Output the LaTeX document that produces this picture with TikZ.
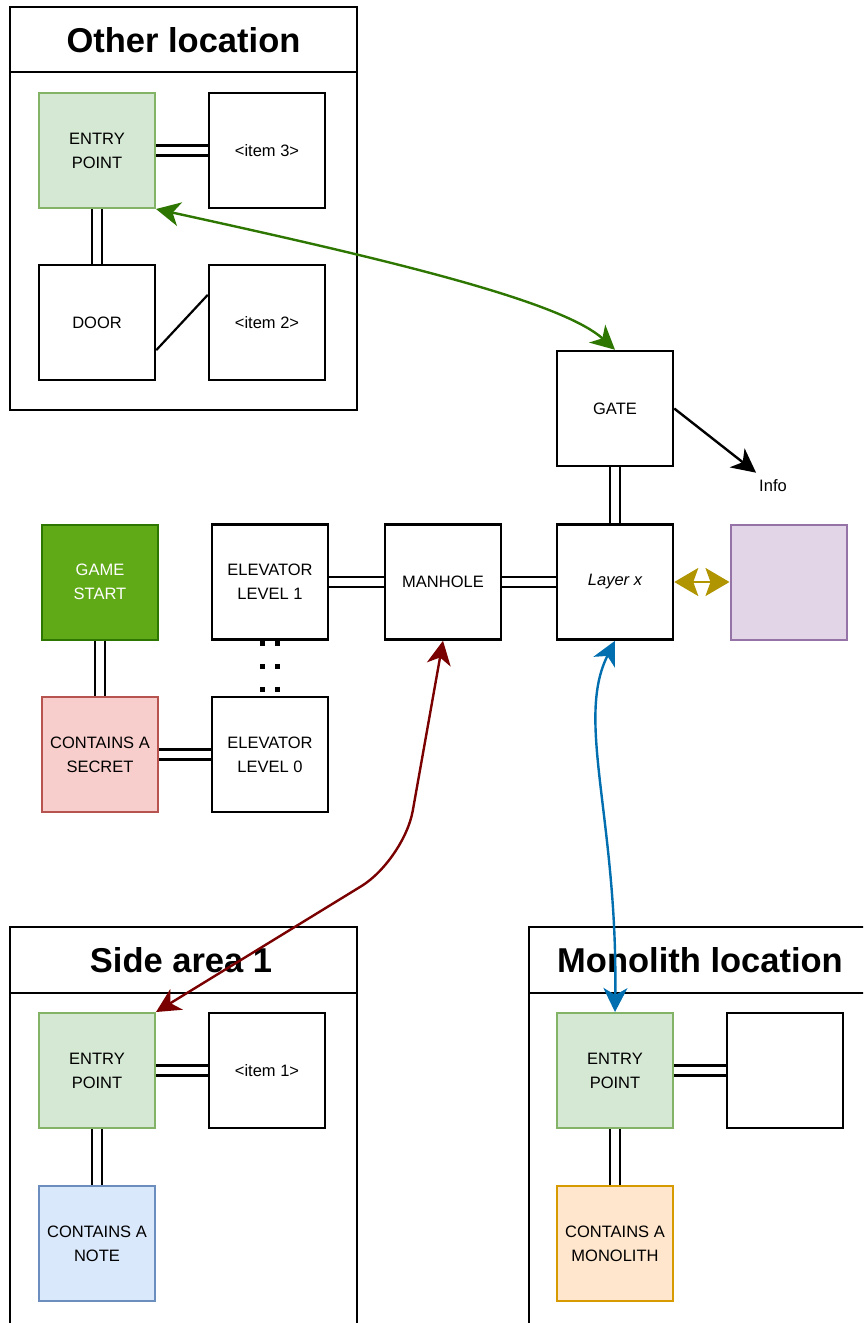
\documentclass[tikz,border=0pt]{standalone}
\usepackage{fontspec}
\setmainfont{Liberation Sans}
\usetikzlibrary{arrows.meta}
\definecolor{epfill}{HTML}{D5E8D4}\definecolor{epline}{HTML}{82B366}
\definecolor{gsfill}{HTML}{60A917}\definecolor{gsline}{HTML}{2D7600}
\definecolor{scfill}{HTML}{F8CECC}\definecolor{scline}{HTML}{B85450}
\definecolor{ntfill}{HTML}{DAE8FC}\definecolor{ntline}{HTML}{6C8EBF}
\definecolor{mnfill}{HTML}{FFE6CC}\definecolor{mnline}{HTML}{D79B00}
\definecolor{pufill}{HTML}{E1D5E7}\definecolor{puline}{HTML}{9673A6}
\definecolor{arrgreen}{HTML}{2D7600}\definecolor{arrred}{HTML}{7A0000}
\definecolor{arrblue}{HTML}{006EAF}\definecolor{arrgold}{HTML}{B09500}
\newcommand\lbl{\fontsize{16.5}{24}\selectfont}
\newcommand\ttl{\fontsize{34.5}{40}\selectfont\bfseries}
\tikzset{
  box/.style={draw,line width=2.5pt,minimum width=116pt,minimum height=115pt,inner sep=0pt,align=center,font=\lbl},
  cbox/.style={box,line width=2pt,draw=#1line,fill=#1fill},
  link/.style={line width=2.2pt,double,double distance=7.8pt},
  dotlink/.style={line width=5pt,double,double distance=10pt,dash pattern=on 5pt off 18pt},
  area/.style={draw,line width=2.5pt},
  conn/.style={<->,line width=2.4pt}
}
\begin{document}
\begin{tikzpicture}[x=1pt,y=-1pt,>={Stealth[length=24pt,width=24pt,inset=7pt]}]
  \clip (0,0) rectangle (863,1323);
  \draw[area] (10,7) rectangle (357,410) (10,72) -- (357,72);
  \draw[area] (10,927) rectangle (357,1340) (10,993) -- (357,993);
  \draw[area] (529,927) rectangle (880,1340) (529,993) -- (880,993);
  \node[font=\ttl](t1)at(183.5,40){Other location};
  \node[font=\ttl](t2)at(181,960){Side area 1};
  \node[font=\ttl](t3)at(700,960){Monolith location};
  \node[cbox=ep](ep1)at(97,150.5){ENTRY\\POINT};
  \node[box](it3)at(267,150.5){<item 3>};
  \node[box](door)at(97,322.5){DOOR};
  \node[box](it2)at(267,322.5){<item 2>};
  \node[box](gate)at(615,408.5){GATE};
  \node[font=\lbl](info)at(773,486){Info};
  \node[cbox=gs,text=white](start)at(100,582){GAME\\START};
  \node[cbox=sc](secret)at(100,754.5){CONTAINS A\\SECRET};
  \node[box](elev1)at(270,582){ELEVATOR\\LEVEL 1};
  \node[box](elev0)at(270,754.5){ELEVATOR\\LEVEL 0};
  \node[box](manhole)at(443,582){MANHOLE};
  \node[box](layer)at(615,582){\itshape Layer x};
  \node[cbox=pu](purple)at(788.5,582){};
  \node[cbox=ep](ep2)at(97,1070.5){ENTRY\\POINT};
  \node[box](it1)at(267,1070.5){<item 1>};
  \node[cbox=nt](note)at(97,1243.5){CONTAINS A\\NOTE};
  \node[cbox=ep](ep3)at(615,1070.5){ENTRY\\POINT};
  \node[box](empty)at(785,1070.5){};
  \node[cbox=mn](mono)at(615,1243.5){CONTAINS A\\MONOLITH};
  \foreach \a/\b in {ep1/it3,ep1/door,start/secret,secret/elev0,elev1/manhole,manhole/layer,gate/layer,ep2/it1,ep2/note,ep3/empty,ep3/mono}
    \draw[link](\a)--(\b);
  \draw[dotlink](elev1)--(elev0);
  \draw[line width=2.2pt](door.-25)--(it2.155);
  \draw[->,line width=2.4pt,shorten >=6pt](gate.east)--(info);
  \draw[conn,arrgreen](ep1.south east) .. controls (380,258) and (560,300) .. (gate.north);
  \coordinate (bend) at (404,860);
  \draw[conn,arrred,rounded corners=50pt](manhole.south)--(bend)--(ep2.north east);
  \draw[conn,arrblue](layer.south) .. controls (575,720) and (618,820) .. (ep3.north);
  \draw[conn,arrgold,>={Stealth[length=24pt,width=28pt,inset=5pt]}](layer)--(purple);
\end{tikzpicture}
\end{document}
